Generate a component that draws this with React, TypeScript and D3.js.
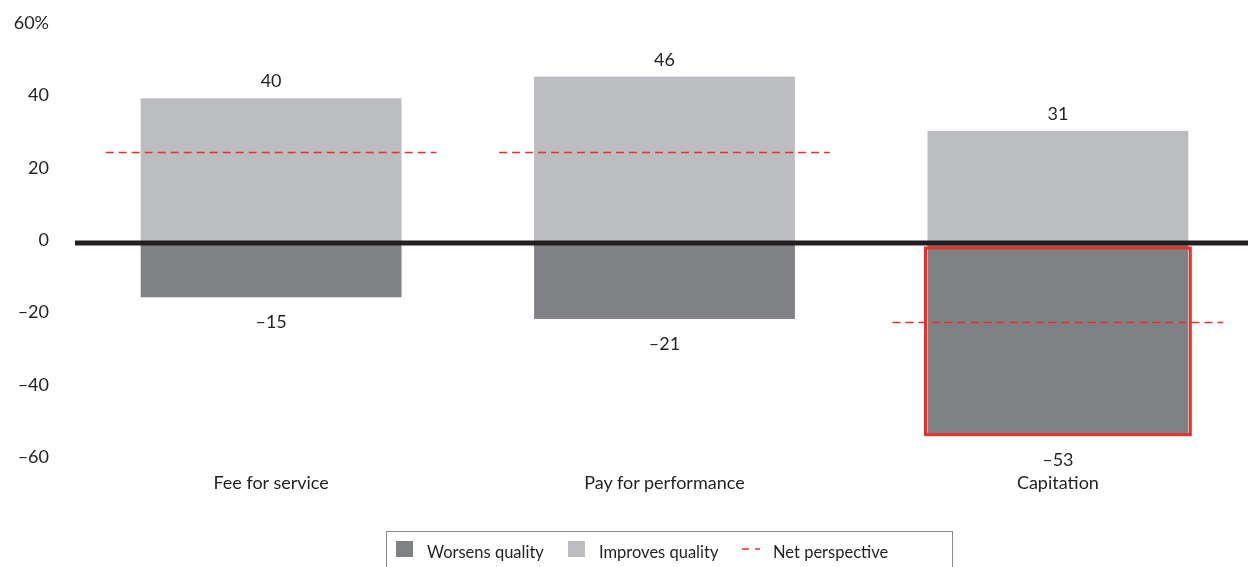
import React, { useRef, useEffect } from 'react';
import * as d3 from 'd3';

const categories = ['Fee for service', 'Pay for performance', 'Capitation'];
const improves = [40, 46, 31];
const worsens = [-15, -21, -53];
const netPerspective = [25, 25, -22];
const yTicks = [60, 40, 20, 0, -20, -40, -60];
const highlighted = 'Capitation';

const legendItems = ['Worsens quality', 'Improves quality', 'Net perspective'];

const App: React.FC = () => {
  const chartRef = useRef<SVGSVGElement | null>(null);
  const width = 1248;
  const height = 567;

  useEffect(() => {
    if (!chartRef.current) return;
    const svg = d3.select(chartRef.current);
    svg.selectAll('*').remove();

    const font = 'Lato, "Noto Sans", sans-serif';
    const textColor = '#231f20';
    const light = '#bcbdc1';
    const dark = '#808184';
    const red = '#e8302a';

    const x = d3.scaleBand<string>()
      .domain(categories)
      .range([75, 1254])
      .paddingInner(0.337)
      .paddingOuter(0.167);

    const y = d3.scaleLinear()
      .domain([-60, 60])
      .range([460, 26]);

    const fmt = (v: number) => (v < 0 ? '\u2013' + Math.abs(v) : String(v));

    // y tick labels
    svg.append('g')
      .selectAll('text')
      .data(yTicks)
      .enter()
      .append('text')
      .attr('x', 49)
      .attr('y', d => y(d) + 3)
      .attr('text-anchor', 'end')
      .attr('font-family', font)
      .attr('font-size', 18)
      .attr('fill', textColor)
      .text(d => fmt(d) + (d === 60 ? '%' : ''));

    const bars = svg.append('g');

    // improves quality (positive)
    bars.selectAll('.imp')
      .data(categories)
      .enter()
      .append('rect')
      .attr('x', d => x(d)!)
      .attr('y', (d, i) => y(improves[i]))
      .attr('width', x.bandwidth())
      .attr('height', (d, i) => y(0) - y(improves[i]))
      .attr('fill', light);

    // worsens quality (negative)
    bars.selectAll('.wor')
      .data(categories)
      .enter()
      .append('rect')
      .attr('x', d => x(d)!)
      .attr('y', y(0))
      .attr('width', x.bandwidth())
      .attr('height', (d, i) => y(worsens[i]) - y(0))
      .attr('fill', dark);

    // highlight box
    const hx = x(highlighted)!;
    const hi = categories.indexOf(highlighted);
    svg.append('rect')
      .attr('x', hx - 2)
      .attr('y', y(0) + 5)
      .attr('width', x.bandwidth() + 4)
      .attr('height', y(worsens[hi]) - y(0) - 5)
      .attr('fill', 'none')
      .attr('stroke', red)
      .attr('stroke-width', 3);

    // zero line
    svg.append('line')
      .attr('x1', 75)
      .attr('x2', width)
      .attr('y1', y(0))
      .attr('y2', y(0))
      .attr('stroke', textColor)
      .attr('stroke-width', 5);

    // net perspective dashes
    svg.append('g')
      .selectAll('line')
      .data(categories)
      .enter()
      .append('line')
      .attr('x1', d => x(d)! - 35)
      .attr('x2', d => x(d)! + x.bandwidth() + 35)
      .attr('y1', (d, i) => y(netPerspective[i]))
      .attr('y2', (d, i) => y(netPerspective[i]))
      .attr('stroke', red)
      .attr('stroke-width', 1.5)
      .attr('stroke-dasharray', '8,5');

    // value labels
    const labels = svg.append('g')
      .attr('font-family', font)
      .attr('font-size', 18)
      .attr('fill', textColor)
      .attr('text-anchor', 'middle');

    labels.selectAll('.top')
      .data(categories)
      .enter()
      .append('text')
      .attr('x', d => x(d)! + x.bandwidth() / 2)
      .attr('y', (d, i) => y(improves[i]) - 11)
      .text((d, i) => fmt(improves[i]));

    labels.selectAll('.bot')
      .data(categories)
      .enter()
      .append('text')
      .attr('x', d => x(d)! + x.bandwidth() / 2)
      .attr('y', (d, i) => y(worsens[i]) + 31)
      .text((d, i) => fmt(worsens[i]));

    // category labels
    svg.append('g')
      .selectAll('text')
      .data(categories)
      .enter()
      .append('text')
      .attr('x', d => x(d)! + x.bandwidth() / 2)
      .attr('y', 489)
      .attr('text-anchor', 'middle')
      .attr('font-family', font)
      .attr('font-size', 18)
      .attr('fill', textColor)
      .text(d => d);

    // legend
    const legend = svg.append('g');
    legend.append('rect')
      .attr('x', 386.5)
      .attr('y', 531.5)
      .attr('width', 566)
      .attr('height', 40)
      .attr('fill', '#fff')
      .attr('stroke', '#8a8a8a')
      .attr('stroke-width', 1);

    const itemX = [396, 568, 742];
    legendItems.forEach((name, i) => {
      if (i < 2) {
        legend.append('rect')
          .attr('x', itemX[i])
          .attr('y', 541)
          .attr('width', 17)
          .attr('height', 16)
          .attr('fill', i === 0 ? dark : light);
      } else {
        legend.append('line')
          .attr('x1', itemX[i])
          .attr('x2', itemX[i] + 18)
          .attr('y1', 549)
          .attr('y2', 549)
          .attr('stroke', red)
          .attr('stroke-width', 1.5)
          .attr('stroke-dasharray', '7,6');
      }
      legend.append('text')
        .attr('x', itemX[i] + 31)
        .attr('y', 558)
        .attr('font-family', font)
        .attr('font-size', 16.5)
        .attr('fill', textColor)
        .text(name);
    });
  }, []);

  return (
    <div style={{ position: 'fixed', left: 0, top: 0, width, height, overflow: 'hidden' }}>
      <svg ref={chartRef} width={width} height={height} style={{ display: 'block' }} />
    </div>
  );
};

export default App;
